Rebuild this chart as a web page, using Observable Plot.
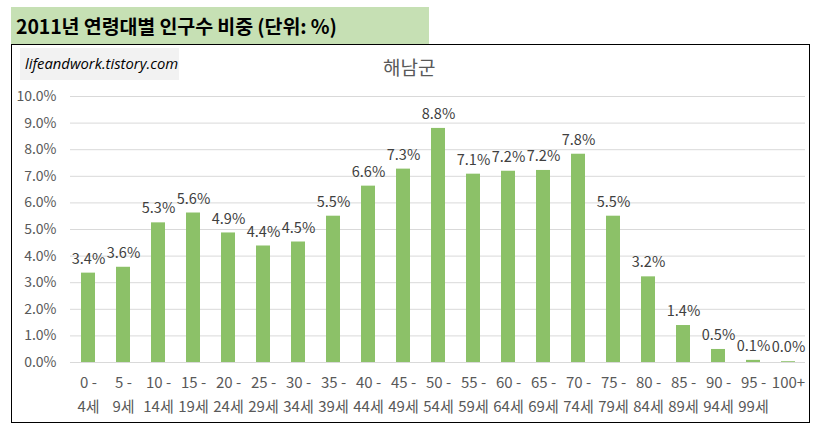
<!DOCTYPE html>
<html><head><meta charset="utf-8">
<script src="https://cdn.jsdelivr.net/npm/d3@7"></script>
<script src="https://cdn.jsdelivr.net/npm/@observablehq/plot@0.6"></script>
<style>
html,body{margin:0;padding:0;background:#fff;}
#wrap{position:relative;width:819px;height:432px;overflow:hidden;font-family:"Noto Sans CJK KR","Noto Sans",sans-serif;}
#title{position:absolute;left:11px;top:7px;width:418px;height:37px;background:#c6e0b4;}
#title span{position:absolute;left:5px;top:4px;font-size:19.5px;font-weight:bold;color:#000;white-space:nowrap;letter-spacing:-0.1px;}
#frame{position:absolute;left:11px;top:44px;width:797px;height:377px;border:1.5px solid #000;}
#wm{position:absolute;left:8px;top:3px;width:159px;height:32px;background:#f2f2f2;}
#wm span{position:absolute;left:5px;top:5px;font-family:"Open Sans",sans-serif;font-style:italic;font-size:14.8px;color:#000;white-space:nowrap;}
#ctitle{position:absolute;left:371px;top:8px;font-size:19px;color:#595959;white-space:nowrap;}
#chart{position:absolute;left:0;top:0;}
</style></head>
<body>
<div id="wrap">
  <div id="title"><span>2011년 연령대별 인구수 비중 (단위: %)</span></div>
  <div id="frame">
    <div id="chart"></div>
    <div id="wm"><span>lifeandwork.tistory.com</span></div>
    <div id="ctitle">해남군</div>
  </div>
</div>
<script>
const line1 = ["0 -","5 -","10 -","15 -","20 -","25 -","30 -","35 -","40 -","45 -","50 -","55 -","60 -","65 -","70 -","75 -","80 -","85 -","90 -","95 -","100+"];
const line2 = ["4세","9세","14세","19세","24세","29세","34세","39세","44세","49세","54세","59세","64세","69세","74세","79세","84세","89세","94세","99세",""];
const categories = line1.map((d,i)=>d+"|"+line2[i]);
const values = [3.36,3.58,5.25,5.62,4.87,4.38,4.53,5.5,6.63,7.27,8.8,7.08,7.19,7.22,7.83,5.5,3.22,1.39,0.49,0.08,0.03];
const labels = ["3.4%","3.6%","5.3%","5.6%","4.9%","4.4%","4.5%","5.5%","6.6%","7.3%","8.8%","7.1%","7.2%","7.2%","7.8%","5.5%","3.2%","1.4%","0.5%","0.1%","0.0%"];
const yTicks = [0,1,2,3,4,5,6,7,8,9,10];

const data = categories.map((c,i)=>({c, v: values[i], label: labels[i]}));
const fontFam = '"Noto Sans CJK KR","Noto Sans",sans-serif';

const plot = Plot.plot({
  width: 797,
  height: 377,
  marginLeft: 58,
  marginRight: 4,
  marginTop: 51,
  marginBottom: 60,
  style: {fontFamily: fontFam, background: "transparent", overflow: "visible"},
  x: {domain: categories, paddingInner: 0.6, paddingOuter: 0.3, label: null},
  y: {domain: [0, 10], label: null},
  marks: [
    Plot.gridY(yTicks, {stroke: "#d9d9d9", strokeOpacity: 1, strokeWidth: 1}),
    Plot.axisY(yTicks, {tickSize: 0, tickPadding: 14, tickFormat: d => d.toFixed(1) + "%", fontSize: 14, fill: "#595959", label: null}),
    Plot.barY(data, {x: "c", y: "v", fill: "#8cc168"}),
    Plot.ruleY([0], {stroke: "#d9d9d9", strokeWidth: 1}),
    Plot.text(data, {x: "c", y: "v", text: "label", dy: -14, fontSize: 14.5, fill: "#404040"}),
    Plot.axisX({tickSize: 0, tickPadding: 15, tickFormat: d => d.split("|")[0], fontSize: 15, fill: "#595959", label: null, lineAnchor: "top"}),
    Plot.axisX({tickSize: 0, tickPadding: 39, tickFormat: d => d.split("|")[1], fontSize: 15, fill: "#595959", label: null, lineAnchor: "top"})
  ]
});
document.getElementById("chart").appendChild(plot);
</script>
</body></html>
